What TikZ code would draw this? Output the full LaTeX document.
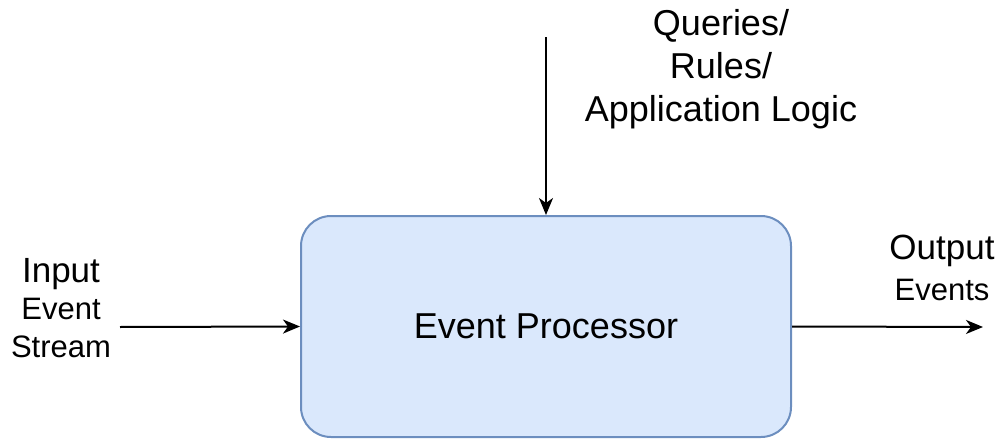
\documentclass[tikz,border=0pt]{standalone}
\usepackage{fontspec}
\setmainfont{Liberation Sans}
\usetikzlibrary{arrows.meta}
\definecolor{procfill}{HTML}{DAE8FC}
\definecolor{procline}{HTML}{6C8EBF}
\tikzset{
  procbox/.style={draw=procline, fill=procfill, line width=2pt, rounded corners=30pt,
    minimum width=490pt, minimum height=221pt, inner sep=0pt,
    font=\fontsize{36}{43}\selectfont},
  flow/.style={line width=2pt, -{Stealth[length=17pt,width=14pt,inset=5pt]}},
  lbl/.style={align=center, inner sep=0pt}
}
\begin{document}
\begin{tikzpicture}[x=1pt,y=-1pt]
  \useasboundingbox (0,0) rectangle (1002,439);
  % central processing block
  \node[procbox] (proc) at (546,326.5) {Event Processor};
  % incoming stream
  \node[lbl, font=\fontsize{31}{37.5}\selectfont] (inlab) at (61,308)
    {{\fontsize{35}{37.5}\selectfont Input}\\Event\\Stream};
  \coordinate (insrc) at (120,327);
  \draw[flow] (insrc) -- (proc.west);
  % outgoing events
  \node[lbl, font=\fontsize{31}{41}\selectfont] (outlab) at (942,268)
    {{\fontsize{35}{41}\selectfont Output}\\Events};
  \coordinate (outdst) at (983,327);
  \draw[flow] (proc.east) -- (outdst);
  % logic fed in from above
  \node[lbl, font=\fontsize{36}{43}\selectfont] (logic) at (721,69)
    {Queries/\\Rules/\\Application Logic};
  \coordinate (logicsrc) at (546,37);
  \draw[flow] (logicsrc) -- (proc.north);
\end{tikzpicture}
\end{document}
